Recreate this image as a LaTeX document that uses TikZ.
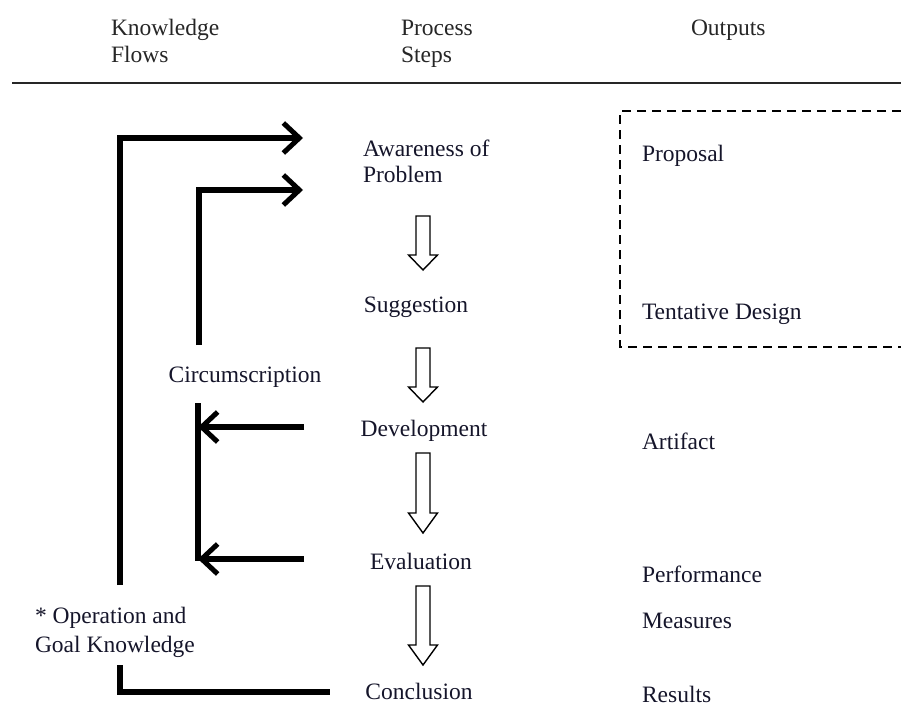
\documentclass[tikz,border=0pt]{standalone}
\usepackage{fontspec}
\setmainfont{Liberation Serif}
\usetikzlibrary{arrows.meta}
\definecolor{txt}{HTML}{15152A}
\definecolor{hdr}{HTML}{262626}
\begin{document}
\begin{tikzpicture}[x=1pt,y=-1pt,
  lbl/.style={inner sep=0pt,outer sep=0pt,text=txt,font=\fontsize{23.5}{28}\selectfont},
  head/.style={lbl,text=hdr,anchor=base west},
  outl/.style={lbl,anchor=base west},
  stepl/.style={lbl,anchor=base},
  flow/.style={line width=5.5pt,line cap=butt,line join=miter},
  tipflow/.style={flow,-{Straight Barb[length=16pt,width=30pt,line width=5pt]}},
  hollow/.style={draw=black,line width=1.4pt,fill=white,line join=miter}]
\useasboundingbox (0,0) rectangle (901,715);
% header
\node[head] (hk1) at (111,35) {Knowledge};
\node[head] (hk2) at (111,62) {Flows};
\node[head] (hp1) at (401,35) {Process};
\node[head] (hp2) at (401,62) {Steps};
\node[head] (ho) at (691,35) {Outputs};
\draw[line width=2.2pt,draw=hdr] (12,83) -- (901,83);
% process steps
\node[outl] (aw1) at (363,156) {Awareness of};
\node[outl] (aw2) at (363,182) {Problem};
\node[stepl] (sug) at (416,312) {Suggestion};
\node[stepl] (dev) at (424,436) {Development};
\node[stepl] (eva) at (421,569) {Evaluation};
\node[stepl] (con) at (419,699) {Conclusion};
% outputs
\node[outl] (pro) at (642,161) {Proposal};
\node[outl] (ten) at (642,319) {Tentative Design};
\node[outl] (art) at (642,449) {Artifact};
\node[outl] (per) at (642,582) {Performance};
\node[outl] (mea) at (642,628) {Measures};
\node[outl] (res) at (642,702) {Results};
\draw[dashed,line width=2.4pt,dash pattern=on 9pt off 6pt] (901,111) -- (620,111) -- (620,347) -- (901,347);
% knowledge flows labels
\node[stepl] (cir) at (245,382) {Circumscription};
\node[outl] (ogk1) at (35,623) {* Operation and};
\node[outl] (ogk2) at (35,652) {Goal Knowledge};
% coordinates for connectors
\coordinate (o1) at (120,585);
\coordinate (o2) at (120,138);
\coordinate (o3) at (303,138);
\coordinate (i1) at (199,345);
\coordinate (i2) at (199,190);
\coordinate (i3) at (303,190);
\coordinate (d1) at (304,427);
\coordinate (d2) at (198,427);
\coordinate (e1) at (304,559);
\coordinate (e2) at (198,559);
\coordinate (l1) at (198,403);
\coordinate (l2) at (198,561);
\coordinate (c1) at (120,665);
\coordinate (c2) at (120,692);
\coordinate (c3) at (330,692);
% connectors
\draw[tipflow] (o1) -- (o2) -- (o3);
\draw[tipflow] (i1) -- (i2) -- (i3);
\draw[flow] (l1) -- (l2);
\draw[tipflow] (d1) -- (d2);
\draw[tipflow] (e1) -- (e2);
\draw[flow] (c1) -- (c2) -- (c3);
% hollow arrows between steps
\foreach \t/\h/\p in {216/255/270, 348/387/402, 453/513/533, 586/645/665}{
  \draw[hollow] (416,\t) -- (430,\t) -- (430,\h) -- (437.5,\h) -- (423,\p) -- (408.5,\h) -- (416,\h) -- cycle;
}
\end{tikzpicture}
\end{document}
